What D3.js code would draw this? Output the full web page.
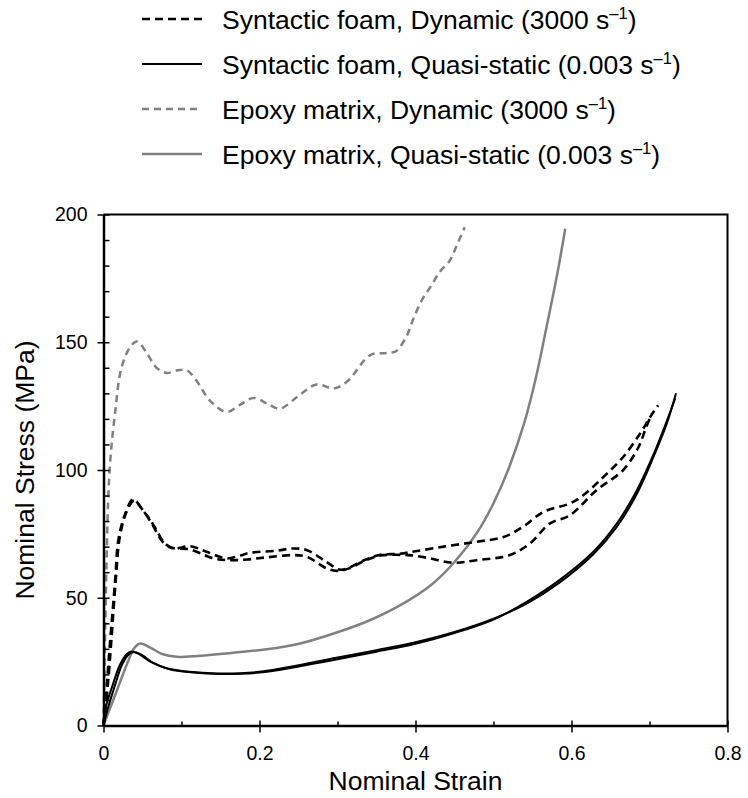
<!DOCTYPE html>
<html>
<head>
<meta charset="utf-8">
<script src="https://cdn.jsdelivr.net/npm/d3@7"></script>
<style>
	body { margin: 0; background: #fff; }
	svg { display: block; font-family: "Liberation Sans", Arial, sans-serif; }
	.axis path, .axis line { stroke: #000; }
	.axis text { font-size: 19.5px; fill: #000; }
</style>
</head>
<body>
<div id="graphic"></div>
<script>
// strain / stress pairs, [strain, MPa]
const foamDynamicA = [[0,0],[0.004,15],[0.008,31],[0.015,57],[0.019,72.5],[0.028,83],[0.038,88.5],[0.051,84],[0.06,80.4],[0.068,76.5],[0.077,71.9],[0.089,69.3],[0.111,70.2],[0.132,68],[0.158,65.4],[0.175,66.5],[0.188,67.6],[0.222,68.4],[0.243,69.3],[0.261,68.6],[0.286,64],[0.303,61],[0.315,61.8],[0.335,64.8],[0.355,66.8],[0.38,67.2],[0.4,68.2],[0.436,70],[0.478,71.9],[0.513,73.8],[0.538,77.8],[0.564,83.6],[0.598,86.9],[0.615,90.1],[0.641,97.3],[0.666,105],[0.688,114.3],[0.701,120.8],[0.711,125.3]];
const foamDynamicB = [[0,0],[0.005,14],[0.01,33],[0.016,58],[0.021,74],[0.03,84],[0.039,88],[0.05,84.5],[0.062,79],[0.077,71.5],[0.089,69.5],[0.11,69],[0.141,65.4],[0.163,64.7],[0.185,65],[0.209,65.8],[0.243,66.7],[0.261,66],[0.286,61.5],[0.299,60.5],[0.315,61.5],[0.335,64.5],[0.355,66.5],[0.38,66.8],[0.395,66.6],[0.419,65.4],[0.448,63.7],[0.478,64.7],[0.521,66.7],[0.547,71.3],[0.572,79],[0.598,82.3],[0.632,92.1],[0.666,99.9],[0.686,109],[0.696,117],[0.703,122]];
const foamQuasiA = [[0,0],[0.002,6],[0.0126,16.6],[0.021,23.7],[0.03,28],[0.036,29],[0.045,28],[0.06,25],[0.081,22.4],[0.11,21],[0.145,20.4],[0.2,21],[0.252,23.7],[0.295,26.3],[0.35,29.5],[0.4,32.6],[0.45,36.6],[0.5,41.8],[0.543,47.8],[0.585,56],[0.628,67],[0.658,77.7],[0.684,90.8],[0.705,105],[0.722,118],[0.734,130]];
const foamQuasiB = [[0,0],[0.004,5],[0.015,16],[0.024,24],[0.033,28],[0.04,28.8],[0.05,27.4],[0.065,24.3],[0.085,22],[0.115,20.7],[0.15,20.2],[0.2,20.7],[0.252,23.2],[0.295,25.6],[0.35,28.9],[0.4,32],[0.45,36.2],[0.5,41.5],[0.543,48.5],[0.585,57],[0.628,68],[0.658,79],[0.684,92.2],[0.705,106],[0.722,119],[0.733,128]];
const epoxyDynamic = [[0,0],[0.002,35],[0.004,65],[0.006,88],[0.009,105],[0.0147,122],[0.023,140],[0.034,148],[0.043,150.3],[0.055,146],[0.068,140],[0.081,138],[0.095,139],[0.107,139],[0.119,135],[0.137,127],[0.158,122.7],[0.175,125.5],[0.192,128.2],[0.21,126],[0.226,124],[0.25,129],[0.273,133.5],[0.295,131.9],[0.312,134.5],[0.342,145],[0.363,145.8],[0.375,146.5],[0.389,152.7],[0.397,159],[0.408,166.4],[0.419,171.6],[0.431,177.5],[0.444,182],[0.453,188],[0.463,195]];
const epoxyQuasi = [[0,0],[0.01,8],[0.02,16],[0.03,24],[0.04,30.5],[0.047,32.1],[0.06,30.5],[0.075,28],[0.094,26.9],[0.12,27.2],[0.166,28.5],[0.209,29.8],[0.252,32.1],[0.3,36.5],[0.34,41],[0.38,47],[0.42,55],[0.45,64],[0.48,76],[0.5,87],[0.52,101],[0.54,119],[0.555,137],[0.568,156],[0.581,175.5],[0.592,194.4]];

const xTicks = [0, 0.2, 0.4, 0.6, 0.8];
const xMinorTicks = [0.1, 0.3, 0.5, 0.7];
const yTicks = [0, 50, 100, 150, 200];
const yMinorTicks = d3.range(10, 200, 10).filter(d => d % 50 !== 0);

const legendLabels = ["Syntactic foam, Dynamic (3000 s", "Syntactic foam, Quasi-static (0.003 s", "Epoxy matrix, Dynamic (3000 s", "Epoxy matrix, Quasi-static (0.003 s"];

// series -> style, one entry per drawn curve (two test repeats for the foam)
const series = [
	{ data: epoxyQuasi, colour: "#808080", dash: null, width: 2.5 },
	{ data: epoxyDynamic, colour: "#808080", dash: "7,5", width: 2.5 },
	{ data: foamQuasiA, colour: "#000", dash: null, width: 2 },
	{ data: foamQuasiB, colour: "#000", dash: null, width: 2 },
	{ data: foamDynamicA, colour: "#000", dash: "8,5", width: 2.6 },
	{ data: foamDynamicB, colour: "#000", dash: "8,5", width: 2.6 }
];
const legendStyles = [
	{ colour: "#000", dash: "8,5", width: 2.6 },
	{ colour: "#000", dash: null, width: 2.2 },
	{ colour: "#808080", dash: "7,5", width: 2.5 },
	{ colour: "#808080", dash: null, width: 2.5 }
];

const margin = { top: 214.5, right: 20.5, bottom: 72.5, left: 103.5 };
const chartWidth = 748 - margin.left - margin.right;
const height = 798 - margin.top - margin.bottom;

const svg = d3.select('#graphic')
	.append('svg')
	.attr('width', 748)
	.attr('height', 798);

const g = svg.append('g')
	.attr('transform', `translate(${margin.left},${margin.top})`);

const x = d3.scaleLinear().domain([0, 0.8]).range([0, chartWidth]);
const y = d3.scaleLinear().domain([0, 200]).range([height, 0]);

// plot frame (top and right)
g.append('path')
	.attr('d', `M0,0H${chartWidth}V${height}`)
	.attr('fill', 'none')
	.attr('stroke', '#000')
	.attr('stroke-width', 2);

// curves
const lineGenerator = d3.line()
	.x(d => x(d[0]))
	.y(d => y(d[1]))
	.curve(d3.curveCatmullRom.alpha(0.5));

series.forEach(s => {
	g.append('path')
		.datum(s.data)
		.attr('fill', 'none')
		.attr('stroke', s.colour)
		.attr('stroke-width', s.width)
		.attr('stroke-dasharray', s.dash)
		.style('stroke-linejoin', 'round')
		.attr('d', lineGenerator);
});

// minor ticks point inwards
g.append('g')
	.attr('class', 'axis')
	.attr('transform', `translate(0,${height})`)
	.call(d3.axisTop(x).tickValues(xMinorTicks).tickSize(4).tickFormat(''))
	.call(a => a.select('.domain').remove())
	.selectAll('line').attr('stroke-width', 1.5);

g.append('g')
	.attr('class', 'axis')
	.call(d3.axisRight(y).tickValues(yMinorTicks).tickSize(6).tickFormat(''))
	.call(a => a.select('.domain').remove())
	.selectAll('line').attr('stroke-width', 1.5);

// major ticks cross the axis
g.append('g')
	.attr('class', 'axis')
	.attr('transform', `translate(0,${height})`)
	.call(d3.axisBottom(x).tickValues(xTicks).tickSizeInner(7).tickSizeOuter(0).tickPadding(14)
		.tickFormat(d => d === 0 ? '0' : d3.format('.1f')(d)))
	.call(a => a.select('.domain').attr('stroke-width', 2.5))
	.call(a => a.selectAll('line').attr('y1', -5).attr('stroke-width', 1.5));

g.append('g')
	.attr('class', 'axis')
	.call(d3.axisLeft(y).tickValues(yTicks).tickSizeInner(6).tickSizeOuter(0).tickPadding(10))
	.call(a => a.select('.domain').attr('stroke-width', 2.5))
	.call(a => a.selectAll('line').attr('x1', 6).attr('stroke-width', 1.5));

// axis titles
g.append('text')
	.attr('x', chartWidth / 2)
	.attr('y', height + 64)
	.attr('text-anchor', 'middle')
	.style('font-size', '26.5px')
	.text('Nominal Strain');

g.append('text')
	.attr('transform', `translate(${34 - margin.left},${height / 2}) rotate(-90)`)
	.attr('text-anchor', 'middle')
	.style('font-size', '26.5px')
	.text('Nominal Stress (MPa)');

// legend above the plot
const legend = svg.append('g')
	.attr('transform', 'translate(142,0)');

legendLabels.forEach((label, i) => {
	const rowY = 19 + i * 45;
	const st = legendStyles[i];
	legend.append('line')
		.attr('x1', 0).attr('x2', 60)
		.attr('y1', rowY).attr('y2', rowY)
		.attr('stroke', st.colour)
		.attr('stroke-width', st.width)
		.attr('stroke-dasharray', st.dash);

	const t = legend.append('text')
		.attr('x', 80)
		.attr('y', rowY + 9.5)
		.style('font-size', '26.5px');
	t.append('tspan').text(label);
	t.append('tspan').attr('dy', -10).style('font-size', '16.5px').text('–1');
	t.append('tspan').attr('dy', 10).text(')');
});
</script>
</body>
</html>
